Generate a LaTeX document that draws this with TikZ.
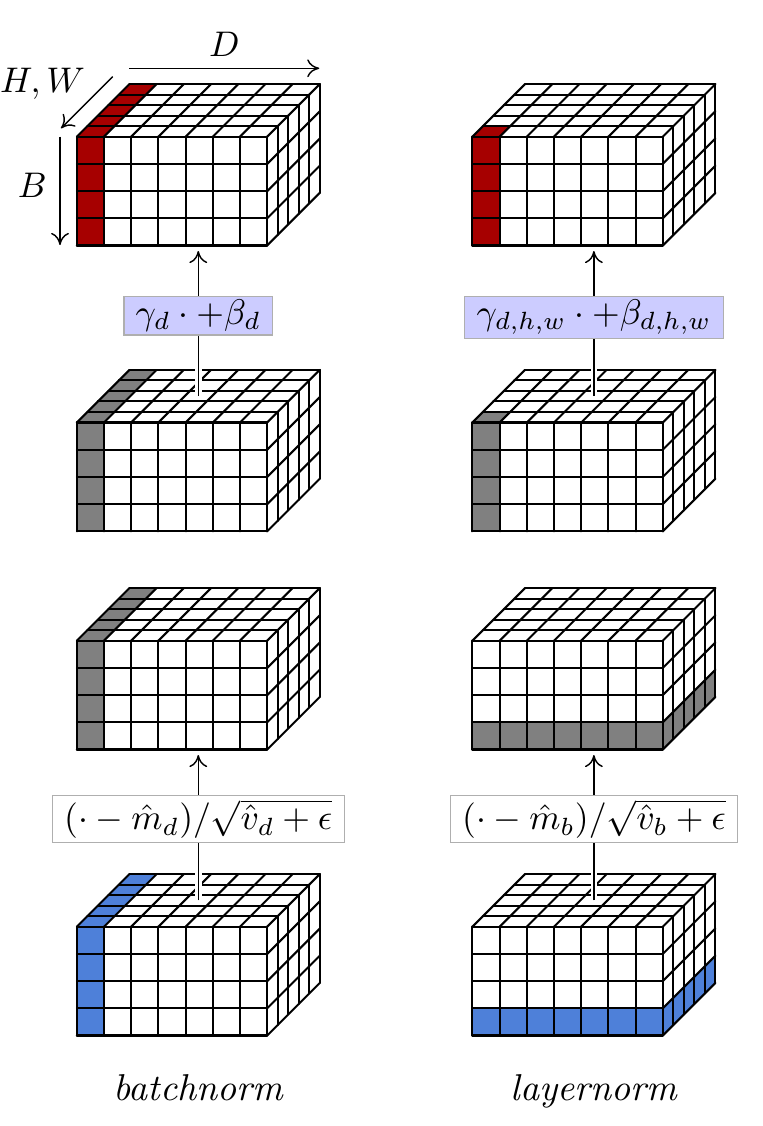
\documentclass[tikz,border=0pt]{standalone}
\usepackage{amsmath}
\usetikzlibrary{arrows.meta}
\definecolor{cubered}{RGB}{166,0,0}
\definecolor{cubegray}{RGB}{128,128,128}
\definecolor{cubeblue}{RGB}{78,128,217}
\definecolor{lav}{RGB}{204,204,255}
\definecolor{boxborder}{RGB}{175,175,175}
\def\cc{27.2}
\def\dd{10.52}
% #1 name, #2 x0, #3 y0 (front face top-left), #4 mode, #5 colour
\newcommand{\drawcube}[5]{%
  \begin{scope}[shift={(#2,#3)}]
    \ifcase#4\relax
    \or
      \fill[#5] (0,0) rectangle (\cc,4*\cc);
      \fill[#5] (0,0) -- (\cc,0) -- ++(5*\dd,-5*\dd) -- ++(-\cc,0) -- cycle;
    \or
      \fill[#5] (0,0) rectangle (\cc,4*\cc);
      \fill[#5] (0,0) -- (\cc,0) -- ++(\dd,-\dd) -- ++(-\cc,0) -- cycle;
    \or
      \fill[#5] (0,3*\cc) rectangle (7*\cc,4*\cc);
      \fill[#5] (7*\cc,3*\cc) -- (7*\cc,4*\cc) -- ++(5*\dd,-5*\dd) -- ++(0,-\cc) -- cycle;
    \fi
    \begin{scope}[gridline]
      \foreach \i in {0,...,7} \draw (\i*\cc,0) -- (\i*\cc,4*\cc);
      \foreach \j in {0,...,4} \draw (0,\j*\cc) -- (7*\cc,\j*\cc);
      \foreach \i in {0,...,7} \draw (\i*\cc,0) -- ++(5*\dd,-5*\dd);
      \foreach \k in {1,...,5} \draw (\k*\dd,-\k*\dd) -- ++(7*\cc,0);
      \foreach \k in {1,...,5} \draw (7*\cc+\k*\dd,-\k*\dd) -- ++(0,4*\cc);
      \foreach \j in {1,...,4} \draw (7*\cc,\j*\cc) -- ++(5*\dd,-5*\dd);
    \end{scope}
    \coordinate (#1-top) at (3.5*\cc+2.5*\dd,-2.5*\dd);
    \coordinate (#1-bot) at (3.5*\cc+2.5*\dd,4*\cc+5.5);
  \end{scope}}
\begin{document}
\begin{tikzpicture}[x=0.2809pt,y=-0.2809pt,
  gridline/.style={line width=0.58pt,line cap=round,line join=round},
  arr/.style={line width=0.4pt,-{To[length=3.4pt,width=5pt]}},
  halo/.style={white,line width=1.9pt},
  gbox/.style={draw=boxborder,line width=0.4pt,fill=lav,inner xsep=3.33pt,inner ysep=1pt,anchor=north},
  nbox/.style={draw=boxborder,line width=0.4pt,fill=white,inner xsep=3.33pt,inner ysep=1pt,anchor=north},
  caption/.style={anchor=base,font=\fontsize{10.5}{12}\selectfont\itshape}]
\useasboundingbox (0,0) rectangle (762,1126);

% cubes
\drawcube{L1}{76.8}{136.7}{1}{cubered}
\drawcube{R1}{472.4}{136.7}{2}{cubered}
\drawcube{L2}{76.8}{422.5}{1}{cubegray}
\drawcube{R2}{472.4}{422.5}{2}{cubegray}
\drawcube{L3}{76.8}{640.7}{1}{cubegray}
\drawcube{R3}{472.4}{640.7}{3}{cubegray}
\drawcube{L4}{76.8}{926.7}{1}{cubeblue}
\drawcube{R4}{472.4}{926.7}{3}{cubeblue}

% axis arrows
\coordinate (Ds) at (129.3,68.3); \coordinate (De) at (319.3,68.3);
\coordinate (Hs) at (112.7,76.7); \coordinate (He) at (61,128.3);
\coordinate (Bs) at (60,136.7);   \coordinate (Be) at (60,245);
\draw[arr] (Ds) -- (De);
\draw[arr] (Hs) -- (He);
\draw[arr] (Bs) -- (Be);
\node (Dl) at (224.3,44) {$D$};
\node (HWl) at (42.5,83.5) {$H,W$};
\node (Bl) at (32.3,185.7) {$B$};

% connectors
\foreach \a/\b in {L2/L1,R2/R1,L4/L3,R4/R3}{
  \draw[halo] (\a-top) -- (\b-bot);
  \draw[arr] (\a-top) -- (\b-bot);
}

% boxes
\node[gbox] (gL) at (198.3,295.5) {$\gamma_d\cdot+\beta_d$};
\node[gbox] (gR) at (594.0,295.5) {$\gamma_{d,h,w}\cdot+\beta_{d,h,w}$};
\node[nbox] (nL) at (198.3,795) {$(\cdot-\hat{m}_d)/\sqrt{\hat{v}_d+\epsilon}$};
\node[nbox] (nR) at (594.0,795) {$(\cdot-\hat{m}_b)/\sqrt{\hat{v}_b+\epsilon}$};

% captions
\node[caption] (cL) at (198.3,1100) {batchnorm};
\node[caption] (cR) at (594.0,1100) {layernorm};
\end{tikzpicture}
\end{document}
